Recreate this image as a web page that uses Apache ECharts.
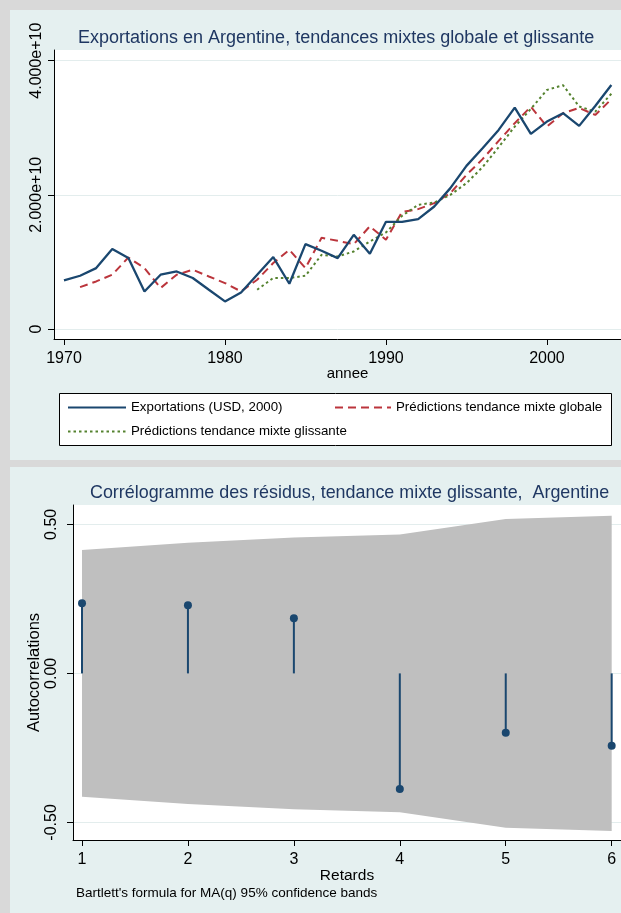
<!DOCTYPE html>
<html><head><meta charset="utf-8">
<script src="https://cdn.jsdelivr.net/npm/echarts@6/dist/echarts.min.js"></script>
<style>html,body{margin:0;padding:0;background:#d9d9d9;}#c{width:621px;height:913px;}</style>
</head><body><div id="c"></div>
<script>
// ---- data ----
const years = [1970,1971,1972,1973,1974,1975,1976,1977,1978,1979,1980,1981,1982,1983,1984,1985,1986,1987,1988,1989,1990,1991,1992,1993,1994,1995,1996,1997,1998,1999,2000,2001,2002,2003,2004];
// exports in billions of USD (2000)
const exportsUSD = [7.24,7.94,9.08,11.91,10.57,5.60,8.09,8.58,7.60,5.85,4.11,5.45,8.09,10.72,6.75,12.66,11.66,10.57,14.04,11.21,15.98,15.98,16.38,18.26,21.00,24.32,26.95,29.68,33.00,29.08,30.92,32.17,30.28,33.25,36.38];
const predGlobal = [null,6.25,7.09,8.09,10.66,9.08,6.11,8.09,8.83,7.83,6.85,5.60,7.34,9.83,11.81,9.08,13.60,13.15,12.63,15.31,13.30,17.44,17.87,18.76,20.25,22.98,25.32,28.04,30.68,33.15,30.17,32.17,32.96,31.91,34.25];
const predGliss = [null,null,null,null,null,null,null,null,null,null,null,null,5.85,7.60,7.60,7.94,11.06,10.81,11.56,13.05,14.39,16.87,18.51,18.85,20.00,21.74,24.12,27.10,30.17,32.81,35.64,36.34,33.18,32.40,35.07];
const lags = [1,2,3,4,5,6];
const acf = [0.235,0.229,0.185,-0.388,-0.199,-0.243];
const bandHalf = [0.414,0.438,0.456,0.466,0.518,0.529];
const yearTicks = [1970,1980,1990,2000];
const expTicks = [0,20,40];
const acfTicks = [-0.5,0,0.5];
const lagTicks = [1,2,3,4,5,6];

// ---- styles ----
const FONT = '"Liberation Sans", Arial, Helvetica, sans-serif';
const PANEL = '#e5f0f0';
const NAVY = '#1f3762';
const BLUE = '#1a476f';
const RED = '#bb353c';
const GREEN = '#55822f';
const GRID = '#e3eded';

const pairs = (xs, ys) => xs.map((x,i)=>[x, ys[i]]).filter(p => p[1] !== null);

const axisLineStyle = {show:true, onZero:false, lineStyle:{color:'#000', width:1}};
const legendText = {fontSize:13.3, color:'#000', fontFamily:FONT};
const legendItem = {opacity:0, borderWidth:0};
const chart = echarts.init(document.getElementById('c'), null, {renderer:'canvas'});
chart.setOption({
  animation:false,
  textStyle:{fontFamily:FONT},
  graphic:{elements:[
    {type:'rect', silent:true, z:-10, shape:{x:10,y:10,width:611,height:450}, style:{fill:PANEL}},
    {type:'rect', silent:true, z:-10, shape:{x:10,y:467,width:611,height:446}, style:{fill:PANEL}},
    {type:'rect', silent:true, z:1, shape:{x:59.5,y:393.5,width:552,height:52}, style:{fill:'#fff', stroke:'#000', lineWidth:1}},
    {type:'text', silent:true, z:5, x:76, y:893, style:{text:"Bartlett's formula for MA(q) 95% confidence bands", fontSize:13.5, fontFamily:FONT, fill:'#000', verticalAlign:'middle'}}
  ]},
  title:[
    {text:'Exportations en Argentine, tendances mixtes globale et glissante', left:78, top:29, padding:0,
     textStyle:{fontSize:18, fontWeight:'normal', color:NAVY, fontFamily:FONT}},
    {text:'Corrélogramme des résidus, tendance mixte glissante,  Argentine', left:90, top:484, padding:0,
     textStyle:{fontSize:17.9, fontWeight:'normal', color:NAVY, fontFamily:FONT}}
  ],
  legend:[
    {left:67, top:401, itemWidth:58, itemHeight:14, padding:0, itemStyle:legendItem, data:['Exportations (USD, 2000)'], textStyle:legendText},
    {left:334, top:401, itemWidth:56, itemHeight:14, padding:0, itemStyle:legendItem, data:['Prédictions tendance mixte globale'], textStyle:legendText},
    {left:67, top:425, itemWidth:58, itemHeight:14, padding:0, itemStyle:legendItem, data:['Prédictions tendance mixte glissante'], textStyle:legendText}
  ],
  grid:[
    {left:54, top:50, right:0, height:289, show:true, backgroundColor:'#fff', borderWidth:0},
    {left:73, top:505, right:0, height:335, show:true, backgroundColor:'#fff', borderWidth:0}
  ],
  xAxis:[
    {type:'value', gridIndex:0, min:1969.38, max:2004.6,
     axisLine:axisLineStyle,
     axisTick:{show:true, length:6, customValues:yearTicks, lineStyle:{color:'#000'}},
     axisLabel:{customValues:yearTicks, margin:12, fontSize:16, color:'#000', formatter:v => String(v)},
     splitLine:{show:false},
     name:'annee', nameLocation:'middle', nameGap:27, nameMoveOverlap:false, nameTextStyle:{fontSize:15, color:'#000', padding:[0,0,0,20]}},
    {type:'value', gridIndex:1, min:0.915, max:6.088,
     axisLine:axisLineStyle,
     axisTick:{show:true, length:6, customValues:lagTicks, lineStyle:{color:'#000'}},
     axisLabel:{customValues:lagTicks, margin:12, fontSize:16, color:'#000', formatter:v => String(v)},
     splitLine:{show:false},
     name:'Retards', nameLocation:'middle', nameGap:28, nameMoveOverlap:false, nameTextStyle:{fontSize:15.5, color:'#000'}}
  ],
  yAxis:[
    {type:'value', gridIndex:0, min:-1.49, max:41.59,
     axisLine:axisLineStyle,
     axisTick:{show:true, length:6, customValues:expTicks, lineStyle:{color:'#000'}},
     axisLabel:{customValues:expTicks, rotate:90, margin:9, fontSize:16, color:'#000',
       formatter:v => v === 0 ? '0' : (v*1e9).toExponential(3)},
     splitLine:{show:true, lineStyle:{color:GRID, width:1}}},
    {type:'value', gridIndex:1, min:-0.559, max:0.565,
     axisLine:axisLineStyle,
     axisTick:{show:true, length:6, customValues:acfTicks, lineStyle:{color:'#000'}},
     axisLabel:{customValues:acfTicks, rotate:90, margin:13, fontSize:16, color:'#000',
       formatter:v => v.toFixed(2)},
     splitLine:{show:true, lineStyle:{color:GRID, width:1}},
     name:'Autocorrelations', nameLocation:'middle', nameRotate:90, nameGap:30, nameMoveOverlap:false,
     nameTextStyle:{fontSize:16.5, color:'#000'}}
  ],
  series:[
    {name:'Exportations (USD, 2000)', type:'line', xAxisIndex:0, yAxisIndex:0, symbol:'none', z:4,
     data:pairs(years, exportsUSD), lineStyle:{color:BLUE, width:2.3}, itemStyle:{color:BLUE}},
    {name:'Prédictions tendance mixte globale', type:'line', xAxisIndex:0, yAxisIndex:0, symbol:'none', z:3,
     data:pairs(years, predGlobal), lineStyle:{color:RED, width:2, type:[8,5]}, itemStyle:{color:RED}},
    {name:'Prédictions tendance mixte glissante', type:'line', xAxisIndex:0, yAxisIndex:0, symbol:'none', z:3,
     data:pairs(years, predGliss), lineStyle:{color:GREEN, width:2, type:[2.5,3]}, itemStyle:{color:GREEN}},
    {name:'band', type:'custom', xAxisIndex:1, yAxisIndex:1, z:1, silent:true,
     data:pairs(lags, bandHalf),
     renderItem:(params, api) => {
       if (params.dataIndex !== 0) return null;
       const pts = [];
       for (let i = 0; i < lags.length; i++) pts.push(api.coord([lags[i], bandHalf[i]]));
       for (let i = lags.length - 1; i >= 0; i--) pts.push(api.coord([lags[i], -bandHalf[i]]));
       return {type:'polygon', shape:{points:pts}, style:{fill:'#bfbfbf'}};
     }},
    {name:'acfStem', type:'bar', xAxisIndex:1, yAxisIndex:1, barWidth:2, z:3,
     data:pairs(lags, acf), itemStyle:{color:BLUE}},
    {name:'acf', type:'scatter', xAxisIndex:1, yAxisIndex:1, symbol:'circle', symbolSize:8, z:4,
     data:pairs(lags, acf), itemStyle:{color:BLUE, opacity:1}}
  ]
});
</script>
</body></html>
